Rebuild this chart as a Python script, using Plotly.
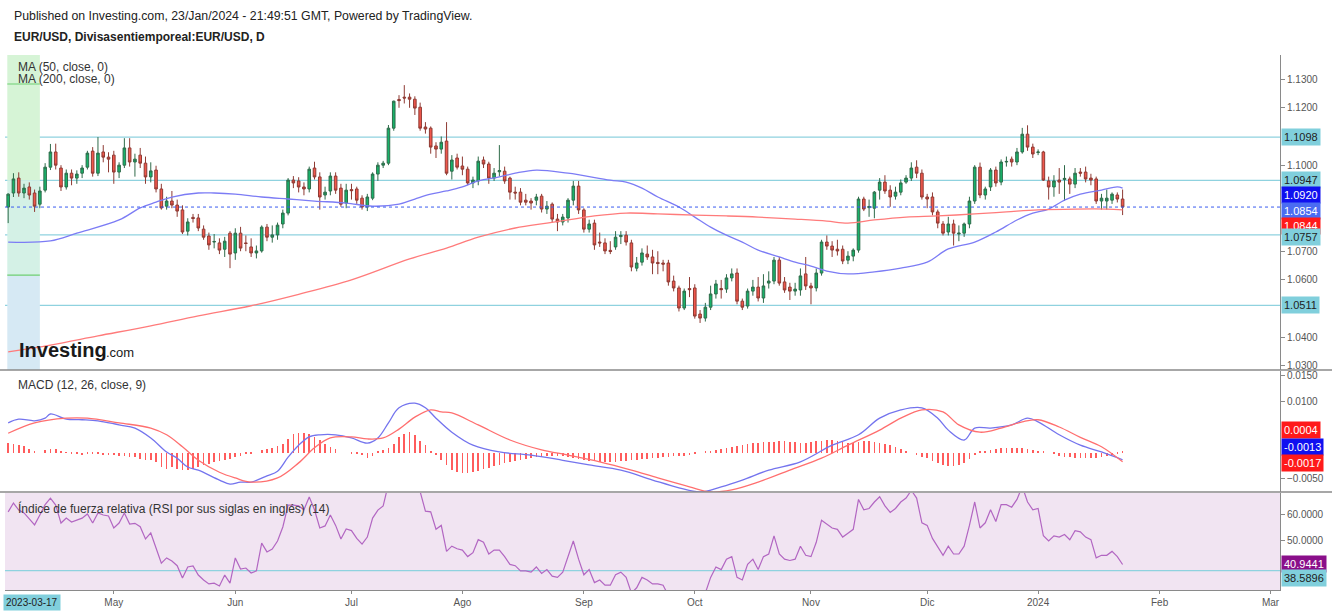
import pandas as pd
import plotly.graph_objects as go

# ------------------------------------------------------------------ data
START = "2023-04-03"   # first daily bar shown (bars are weekdays)

opens = [
    1.0854,1.0903,1.0955,1.0903,1.0924,1.0903,1.0864,1.0913,1.0993,1.1046,
    1.0990,1.0924,1.0972,1.0955,1.0972,1.0993,1.1049,1.0972,1.1046,1.1028,
    1.1035,1.0976,1.1000,1.1060,1.1011,1.1035,1.1007,1.0959,1.0983,1.0917,
    1.0857,1.0875,1.0861,1.0844,1.0770,1.0818,1.0816,1.0777,1.0753,1.0732,
    1.0729,1.0707,1.0763,1.0694,1.0763,1.0729,1.0715,1.0694,1.0701,1.0784,
    1.0749,1.0757,1.0795,1.0833,1.0948,1.0945,1.0924,1.0917,1.0990,1.0959,
    1.0896,1.0910,1.0962,1.0920,1.0868,1.0915,1.0917,1.0885,1.0854,1.0885,
    1.0969,1.1000,1.1007,1.1129,1.1229,1.1237,1.1237,1.1230,1.1202,1.1133,
    1.1129,1.1067,1.1056,1.1084,1.0979,1.1025,1.0997,1.0986,1.0938,1.0945,
    1.1018,1.1004,1.0955,1.0977,1.0979,1.0955,1.0906,1.0906,1.0878,1.0875,
    1.0878,1.0892,1.0847,1.0864,1.0812,1.0802,1.0816,1.0878,1.0927,1.0844,
    1.0777,1.0798,1.0732,1.0729,1.0703,1.0715,1.0751,1.0756,1.0729,1.0641,
    1.0662,1.0690,1.0680,1.0661,1.0659,1.0659,1.0596,1.0572,1.0502,1.0570,
    1.0572,1.0481,1.0467,1.0505,1.0551,1.0570,1.0568,1.0607,1.0624,1.0526,
    1.0509,1.0561,1.0575,1.0537,1.0589,1.0596,1.0669,1.0593,1.0575,1.0561,
    1.0565,1.0621,1.0579,1.0572,1.0624,1.0732,1.0718,1.0707,1.0707,1.0669,
    1.0683,1.0704,1.0882,1.0852,1.0850,1.0913,1.0941,1.0913,1.0892,1.0906,
    1.0941,1.0955,1.0993,1.0972,1.0889,1.0889,1.0837,1.0795,1.0767,1.0795,
    1.0760,1.0763,1.0795,1.0875,1.0993,1.0896,1.0924,1.0983,1.0941,1.1011,
    1.1021,1.1011,1.1046,1.1108,1.1063,1.1044,1.1046,1.0945,1.0924,1.0948,
    1.0950,1.0952,1.0934,1.0976,1.0976,1.0955,1.0952,1.0875,1.0875,1.0878,
    1.0896,1.0882,
]
highs = [
    1.0902,1.0972,1.0975,1.0935,1.0940,1.0915,1.0925,1.1007,1.1074,1.1075,
    1.1000,1.0985,1.0985,1.0982,1.1000,1.1050,1.1063,1.1098,1.1070,1.1045,
    1.1050,1.1010,1.1094,1.1094,1.1040,1.1060,1.1030,1.1010,1.0998,1.0935,
    1.0890,1.0910,1.0880,1.0860,1.0815,1.0830,1.0830,1.0790,1.0765,1.0760,
    1.0745,1.0750,1.0770,1.0780,1.0785,1.0755,1.0745,1.0720,1.0790,1.0795,
    1.0790,1.0800,1.0845,1.0955,1.0962,1.0958,1.0940,1.0995,1.1012,1.0975,
    1.0925,1.0975,1.0975,1.0935,1.0935,1.0935,1.0925,1.0895,1.0900,1.0975,
    1.1010,1.1015,1.1140,1.1225,1.1244,1.1279,1.1250,1.1240,1.1218,1.1150,
    1.1135,1.1080,1.1100,1.1150,1.1035,1.1040,1.1030,1.0995,1.0960,1.1030,
    1.1030,1.1012,1.0990,1.1070,1.0995,1.0960,1.0925,1.0920,1.0900,1.0885,
    1.0900,1.0900,1.0875,1.0870,1.0830,1.0830,1.0885,1.0945,1.0945,1.0850,
    1.0810,1.0810,1.0765,1.0745,1.0735,1.0770,1.0770,1.0770,1.0740,1.0680,
    1.0710,1.0720,1.0705,1.0700,1.0670,1.0670,1.0615,1.0580,1.0570,1.0610,
    1.0585,1.0495,1.0520,1.0580,1.0600,1.0600,1.0620,1.0640,1.0640,1.0535,
    1.0570,1.0600,1.0610,1.0620,1.0630,1.0680,1.0680,1.0610,1.0590,1.0590,
    1.0640,1.0680,1.0590,1.0640,1.0740,1.0755,1.0735,1.0740,1.0720,1.0700,
    1.0710,1.0890,1.0890,1.0880,1.0910,1.0955,1.0965,1.0930,1.0925,1.0950,
    1.0965,1.1010,1.1017,1.0985,1.0900,1.0905,1.0845,1.0805,1.0820,1.0810,
    1.0790,1.0800,1.0890,1.1000,1.1009,1.0925,1.0990,1.0995,1.1020,1.1030,
    1.1030,1.1060,1.1130,1.1139,1.1075,1.1055,1.1050,1.0960,1.0965,1.0990,
    1.1000,1.0960,1.0990,1.0990,1.0995,1.0970,1.0960,1.0900,1.0915,1.0905,
    1.0905,1.0915,
]
lows = [
    1.0798,1.0889,1.0890,1.0885,1.0880,1.0837,1.0850,1.0905,1.0983,1.0985,
    1.0910,1.0915,1.0930,1.0935,1.0955,1.0985,1.0960,1.0962,1.1010,1.0975,
    1.0935,1.0955,1.0990,1.0995,1.0960,1.0990,1.0935,1.0940,1.0905,1.0845,
    1.0845,1.0850,1.0820,1.0760,1.0755,1.0800,1.0770,1.0740,1.0705,1.0710,
    1.0690,1.0680,1.0641,1.0670,1.0700,1.0700,1.0680,1.0675,1.0695,1.0735,
    1.0730,1.0740,1.0780,1.0825,1.0920,1.0905,1.0895,1.0905,1.0950,1.0845,
    1.0880,1.0895,1.0900,1.0855,1.0850,1.0880,1.0865,1.0845,1.0840,1.0878,
    1.0945,1.0990,1.1000,1.1120,1.1200,1.1215,1.1200,1.1175,1.1120,1.1110,
    1.1040,1.1025,1.1040,1.0965,1.0950,1.0985,1.0965,1.0930,1.0920,1.0930,
    1.0990,1.0935,1.0945,1.0960,1.0935,1.0880,1.0880,1.0860,1.0860,1.0845,
    1.0860,1.0835,1.0830,1.0800,1.0770,1.0790,1.0800,1.0860,1.0830,1.0765,
    1.0765,1.0705,1.0715,1.0690,1.0690,1.0705,1.0725,1.0720,1.0630,1.0630,
    1.0650,1.0670,1.0620,1.0620,1.0630,1.0580,1.0560,1.0490,1.0495,1.0540,
    1.0465,1.0450,1.0455,1.0495,1.0535,1.0535,1.0555,1.0595,1.0515,1.0495,
    1.0500,1.0545,1.0525,1.0520,1.0570,1.0585,1.0580,1.0555,1.0530,1.0545,
    1.0545,1.0565,1.0515,1.0560,1.0615,1.0705,1.0680,1.0685,1.0655,1.0655,
    1.0665,1.0695,1.0840,1.0820,1.0815,1.0880,1.0900,1.0855,1.0880,1.0895,
    1.0935,1.0945,1.0955,1.0880,1.0850,1.0825,1.0780,1.0755,1.0755,1.0720,
    1.0735,1.0750,1.0780,1.0865,1.0885,1.0880,1.0910,1.0925,1.0930,1.0995,
    1.0995,1.1000,1.1040,1.1050,1.1025,1.1035,1.0945,1.0880,1.0890,1.0900,
    1.0875,1.0900,1.0920,1.0960,1.0940,1.0930,1.0865,1.0845,1.0845,1.0865,
    1.0870,1.0826,
]
closes = [
    1.0899,1.0952,1.0903,1.0920,1.0896,1.0857,1.0910,1.0993,1.1046,1.1000,
    1.0924,1.0972,1.0955,1.0969,1.0990,1.1042,1.0972,1.1042,1.1028,1.1021,
    1.0976,1.1000,1.1060,1.1011,1.1021,1.1007,1.0959,1.0980,1.0917,1.0851,
    1.0875,1.0861,1.0840,1.0767,1.0802,1.0814,1.0781,1.0749,1.0722,1.0734,
    1.0704,1.0735,1.0690,1.0763,1.0711,1.0727,1.0694,1.0701,1.0784,1.0749,
    1.0757,1.0791,1.0833,1.0948,1.0938,1.0924,1.0917,1.0986,1.0959,1.0889,
    1.0906,1.0962,1.0913,1.0864,1.0913,1.0911,1.0878,1.0854,1.0889,1.0969,
    1.1000,1.1007,1.1129,1.1223,1.1225,1.1234,1.1230,1.1199,1.1129,1.1126,
    1.1063,1.1056,1.1080,1.0972,1.1018,1.0993,1.0986,1.0938,1.0948,1.1014,
    1.1004,1.0955,1.0972,1.0981,1.0945,1.0906,1.0903,1.0871,1.0871,1.0868,
    1.0889,1.0847,1.0857,1.0812,1.0802,1.0819,1.0878,1.0927,1.0844,1.0777,
    1.0795,1.0722,1.0729,1.0701,1.0699,1.0749,1.0755,1.0732,1.0645,1.0659,
    1.0694,1.0680,1.0659,1.0657,1.0655,1.0593,1.0572,1.0502,1.0561,1.0566,
    1.0474,1.0467,1.0505,1.0551,1.0586,1.0566,1.0607,1.0621,1.0526,1.0505,
    1.0561,1.0575,1.0537,1.0579,1.0596,1.0669,1.0589,1.0565,1.0561,1.0568,
    1.0614,1.0579,1.0572,1.0624,1.0732,1.0718,1.0704,1.0701,1.0666,1.0683,
    1.0704,1.0882,1.0847,1.0856,1.0906,1.0941,1.0910,1.0889,1.0906,1.0938,
    1.0955,1.0990,1.0972,1.0889,1.0882,1.0837,1.0798,1.0763,1.0795,1.0763,
    1.0763,1.0795,1.0875,1.0993,1.0896,1.0917,1.0983,1.0938,1.1011,1.1013,
    1.1011,1.1046,1.1108,1.1063,1.1039,1.1046,1.0948,1.0924,1.0945,1.0941,
    1.0954,1.0934,1.0972,1.0972,1.0952,1.0948,1.0875,1.0885,1.0885,1.0899,
    1.0882,1.0854,
]

# moving averages (bar index, value)
ma50_bars = [0,8,13,21,25,28,31,36,39,43,48,53,58,64,69,74,77,80,83,86,89,93,96,100,106,
             114,117,120,123,127,130,133,136,139,142,146,149,152,155,159,164,169,174,178,
             183,187,191,194,197,200,203,207,210,211]
ma50_vals = [1.0732,1.0736,1.0763,1.0809,1.0851,1.0871,1.0889,1.0903,1.0903,1.0899,1.0889,
             1.0882,1.0875,1.0868,1.0857,1.0864,1.0882,1.0899,1.0910,1.0924,1.0945,1.0959,
             1.0972,1.0983,1.0972,1.0948,1.0941,1.0920,1.0889,1.0854,1.0819,1.0784,1.0756,
             1.0732,1.0704,1.0680,1.0662,1.0648,1.0631,1.0621,1.0628,1.0641,1.0662,1.0708,
             1.0732,1.0767,1.0809,1.0833,1.0847,1.0878,1.0899,1.0913,1.0924,1.0920]
ma200_bars = [0,8,17,27,36,46,55,65,76,83,89,96,102,106,111,117,123,130,136,142,149,155,
              159,164,170,176,183,189,195,202,208,211]
ma200_vals = [1.0349,1.0373,1.0405,1.0440,1.0475,1.0510,1.0550,1.0600,1.0673,1.0711,1.0749,
              1.0781,1.0798,1.0809,1.0823,1.0833,1.0830,1.0826,1.0823,1.0819,1.0812,1.0805,
              1.0798,1.0809,1.0819,1.0823,1.0830,1.0837,1.0844,1.0847,1.0847,1.0844]

# MACD (12, 26, close, 9)
macd_bars = [0,2,5,7,8,11,14,17,21,24,27,30,32,34,36,40,42,44,46,49,51,53,55,57,59,62,65,
             68,70,72,74,77,79,81,84,88,93,99,105,110,116,122,127,131,135,139,144,150,156,
             161,165,169,173,176,178,181,183,186,190,193,195,199,203,207,211]
macd_vals = [0.0058,0.0065,0.0062,0.0067,0.0075,0.0065,0.0064,0.0062,0.0054,0.0048,0.0029,
             0.0002,-0.0010,-0.0027,-0.0033,-0.0052,-0.0060,-0.0056,-0.0056,-0.0044,-0.0035,
             -0.0008,0.0015,0.0031,0.0035,0.0035,0.0029,0.0019,0.0029,0.0058,0.0087,0.0096,
             0.0087,0.0067,0.0040,0.0015,0.0002,-0.0004,-0.0014,-0.0023,-0.0033,-0.0052,
             -0.0067,-0.0075,-0.0065,-0.0052,-0.0033,-0.0017,0.0015,0.0035,0.0067,0.0083,
             0.0087,0.0067,0.0044,0.0025,0.0048,0.0048,0.0054,0.0067,0.0060,0.0035,0.0015,
             0.0002,-0.0013]
signal_bars = [0,5,11,15,21,27,30,33,36,40,43,46,51,55,58,61,65,68,71,74,77,80,82,84,89,95,
               101,106,112,118,123,129,133,137,142,148,154,159,165,169,173,177,180,184,188,
               192,195,199,203,207,211]
signal_vals = [0.0038,0.0058,0.0067,0.0067,0.0058,0.0048,0.0035,0.0012,-0.0014,-0.0037,
               -0.0048,-0.0056,-0.0048,-0.0019,0.0010,0.0029,0.0031,0.0027,0.0029,0.0046,
               0.0069,0.0083,0.0079,0.0077,0.0054,0.0025,0.0006,-0.0004,-0.0017,-0.0033,
               -0.0048,-0.0065,-0.0075,-0.0071,-0.0056,-0.0033,-0.0010,0.0015,0.0044,0.0067,
               0.0083,0.0079,0.0054,0.0040,0.0048,0.0060,0.0064,0.0050,0.0030,0.0012,-0.0017]
hist_vals = [
    0.0019,0.0017,0.0015,0.0013,0.0008,0.0002,0.0000,0.0006,0.0008,0.0008,
    0.0002,0.0001,-0.0001,-0.0002,-0.0004,-0.0002,-0.0002,-0.0002,-0.0004,-0.0004,
    -0.0004,-0.0006,-0.0006,-0.0008,-0.0008,-0.0012,-0.0013,-0.0013,-0.0017,-0.0027,
    -0.0031,-0.0027,-0.0031,-0.0033,-0.0033,-0.0031,-0.0027,-0.0023,-0.0021,-0.0017,
    -0.0015,-0.0013,-0.0012,-0.0008,-0.0006,-0.0002,-0.0002,0.0000,0.0006,0.0008,
    0.0010,0.0013,0.0017,0.0027,0.0037,0.0038,0.0038,0.0037,0.0031,0.0025,
    0.0017,0.0012,0.0008,0.0000,0.0000,-0.0002,-0.0002,-0.0004,-0.0010,-0.0006,
    0.0002,0.0006,0.0010,0.0017,0.0031,0.0037,0.0040,0.0035,0.0023,0.0015,
    0.0002,-0.0004,-0.0013,-0.0023,-0.0033,-0.0037,-0.0038,-0.0038,-0.0037,-0.0035,
    -0.0031,-0.0029,-0.0025,-0.0023,-0.0019,-0.0017,-0.0015,-0.0013,-0.0012,-0.0010,
    -0.0008,-0.0008,-0.0006,-0.0006,-0.0006,-0.0006,-0.0008,-0.0010,-0.0012,-0.0013,
    -0.0015,-0.0015,-0.0017,-0.0017,-0.0017,-0.0017,-0.0015,-0.0015,-0.0013,-0.0013,
    -0.0012,-0.0012,-0.0010,-0.0010,-0.0008,-0.0008,-0.0006,-0.0006,-0.0006,-0.0004,
    -0.0002,0.0000,0.0002,0.0004,0.0006,0.0008,0.0010,0.0012,0.0013,0.0015,
    0.0017,0.0019,0.0019,0.0021,0.0021,0.0021,0.0023,0.0023,0.0021,0.0021,
    0.0019,0.0019,0.0021,0.0023,0.0023,0.0025,0.0025,0.0023,0.0021,0.0019,
    0.0019,0.0021,0.0023,0.0023,0.0021,0.0019,0.0017,0.0015,0.0012,0.0008,
    0.0004,0.0000,-0.0004,-0.0008,-0.0010,-0.0015,-0.0020,-0.0024,-0.0026,-0.0026,
    -0.0024,-0.0020,-0.0012,-0.0004,0.0002,0.0004,0.0006,0.0008,0.0010,0.0010,
    0.0010,0.0010,0.0010,0.0008,0.0006,0.0004,0.0002,0.0000,-0.0002,-0.0005,
    -0.0007,-0.0008,-0.0009,-0.0010,-0.0010,-0.0010,-0.0009,-0.0008,-0.0006,-0.0004,
    -0.0002,0.0004,
]

# RSI (14), one value per bar
rsi_vals = [
    61.2,64.6,61.9,60.8,58.5,56.2,60.0,64.0,66.5,63.8,
    56.9,58.8,57.3,58.0,58.8,60.4,56.9,60.8,60.0,59.6,
    55.0,56.9,60.8,56.5,56.8,55.5,50.8,53.1,47.0,41.5,
    43.5,42.3,40.5,35.8,40.0,40.4,36.9,35.0,33.5,33.8,
    32.7,36.9,33.8,43.5,39.2,39.6,37.7,38.5,49.2,45.8,
    46.9,50.0,55.4,63.8,63.8,63.5,62.0,66.9,62.0,55.0,
    55.8,60.0,56.0,50.8,54.6,54.0,51.0,48.8,51.5,58.8,
    61.9,63.5,72.0,77.0,80.0,80.0,79.0,74.0,69.0,61.5,
    61.2,54.5,56.0,46.0,48.0,47.0,46.5,44.0,45.5,50.5,
    49.5,45.0,46.5,46.5,44.0,41.0,40.5,38.5,38.5,38.0,
    40.0,37.5,39.0,36.5,36.0,38.0,44.0,50.0,43.0,37.0,
    39.0,34.0,35.0,33.0,33.0,37.0,38.0,36.0,30.0,32.0,
    36.0,35.0,33.5,33.5,33.0,29.0,27.0,23.0,30.0,30.0,
    25.0,24.0,30.0,36.0,40.0,39.0,43.0,44.0,36.0,35.0,
    41.0,43.0,39.0,44.0,45.0,52.0,45.0,43.0,42.5,43.0,
    48.0,44.5,44.0,49.5,58.0,56.5,55.0,54.5,51.5,53.0,
    54.5,66.0,62.0,62.5,65.0,67.0,63.5,61.0,62.5,65.0,
    66.5,69.5,66.5,57.0,56.0,51.0,47.5,44.5,48.0,45.0,
    45.0,48.0,56.0,65.0,55.0,57.0,62.0,57.5,64.0,64.0,
    63.0,66.0,71.0,65.0,62.0,62.5,52.0,50.0,52.0,51.5,
    52.5,50.5,54.0,53.5,51.5,50.5,43.5,44.5,44.5,46.0,
    44.0,40.9441,
]

level_lines = [1.1098, 1.0947, 1.0757, 1.0511]
last_price = 1.0854
ma50_last = 1.0920
ma200_last = 1.0844
macd_hist_last, macd_last, signal_last = 0.0004, -0.0013, -0.0017
rsi_last = 40.9441
rsi_level = 38.5896

price_ticks = [1.03, 1.04, 1.06, 1.07, 1.10, 1.12, 1.13]
macd_ticks = [0.015, 0.010, -0.005]
rsi_ticks = [60, 50]
month_ticks = ["2023-05-01", "2023-06-01", "2023-07-03", "2023-08-01", "2023-09-01",
               "2023-10-02", "2023-11-01", "2023-12-01", "2024-01-01", "2024-02-01",
               "2024-03-01"]
month_labels = ["May", "Jun", "Jul", "Ago", "Sep", "Oct", "Nov", "Dic", "2024", "Feb", "Mar"]

# ------------------------------------------------------------------ figure
dates = pd.bdate_range(START, periods=len(closes))
FONT = "Liberation Sans, Arial, sans-serif"

fig = go.Figure()

fig.add_trace(go.Candlestick(
    x=dates, open=opens, high=highs, low=lows, close=closes,
    increasing=dict(fillcolor="#17b26a", line=dict(color="#2f6b4a", width=1)),
    decreasing=dict(fillcolor="#f0574c", line=dict(color="#8e3a33", width=1)),
    whiskerwidth=0, yaxis="y", showlegend=False, hoverinfo="skip"))

fig.add_trace(go.Scatter(x=[dates[i] for i in ma50_bars], y=ma50_vals, mode="lines",
                         line=dict(color="#7c7cf5", width=1.3, shape="spline"),
                         yaxis="y", showlegend=False, hoverinfo="skip"))
fig.add_trace(go.Scatter(x=[dates[i] for i in ma200_bars], y=ma200_vals, mode="lines",
                         line=dict(color="#ff7b7b", width=1.3, shape="spline"),
                         yaxis="y", showlegend=False, hoverinfo="skip"))

fig.add_trace(go.Bar(x=dates, y=hist_vals, marker=dict(color="#ff5c5c", line=dict(width=0)),
                     width=0.12 * 86400000, yaxis="y2", showlegend=False, hoverinfo="skip"))
fig.add_trace(go.Scatter(x=[dates[i] for i in macd_bars], y=macd_vals, mode="lines",
                         line=dict(color="#7474ee", width=1.3, shape="spline"),
                         yaxis="y2", showlegend=False, hoverinfo="skip"))
fig.add_trace(go.Scatter(x=[dates[i] for i in signal_bars], y=signal_vals, mode="lines",
                         line=dict(color="#ff6f6f", width=1.3, shape="spline"),
                         yaxis="y2", showlegend=False, hoverinfo="skip"))

fig.add_trace(go.Scatter(x=dates, y=rsi_vals, mode="lines",
                         line=dict(color="#b266c2", width=1.2),
                         yaxis="y3", showlegend=False, hoverinfo="skip"))

axis_common = dict(side="right", showgrid=False, zeroline=False, showline=True,
                   linecolor="#8a8a8a", linewidth=1, ticks="outside", ticklen=4,
                   tickcolor="#8a8a8a", tickfont=dict(family=FONT, size=10, color="#555"),
                   anchor="x", fixedrange=True)

fig.update_layout(
    width=1332, height=614,
    margin=dict(l=5, r=52, t=55, b=24),
    paper_bgcolor="white", plot_bgcolor="white",
    font=dict(family=FONT),
    bargap=0,
    xaxis=dict(type="date", rangebreaks=[dict(bounds=["sat", "mon"])],
               range=["2023-03-31 09:36", "2024-03-04 19:12"],
               tickvals=month_ticks, ticktext=month_labels,
               showgrid=False, zeroline=False, showline=True, linecolor="#8a8a8a",
               ticks="outside", ticklen=3, tickcolor="#8a8a8a",
               tickfont=dict(family=FONT, size=10, color="#555"),
               anchor="y3", rangeslider=dict(visible=False), fixedrange=True),
    yaxis=dict(domain=[0.4112, 1.0], range=[1.0286, 1.1384], tickvals=price_ticks,
               tickformat=".4f", **axis_common),
    yaxis2=dict(domain=[0.1832, 0.4093], range=[-0.0075, 0.01577], tickvals=macd_ticks,
                tickformat=".4f", **axis_common),
    yaxis3=dict(domain=[0.0, 0.1813], range=[31.15, 68.46], tickvals=rsi_ticks,
                tickformat=".4f", **axis_common),
)

shapes = []
# RSI panel background
shapes.append(dict(type="rect", xref="paper", yref="y3 domain", x0=0, x1=1, y0=0, y1=1,
                   fillcolor="#f1e4f2", line=dict(width=0), layer="below"))
# shaded drawing at the left of the price panel
shapes.append(dict(type="rect", xref="x", yref="y", x0="2023-03-31 20:00", x1="2023-04-11",
                   y0=1.0947, y1=1.1384, fillcolor="#d6f4d6", line=dict(width=0), layer="below"))
shapes.append(dict(type="rect", xref="x", yref="y", x0="2023-03-31 20:00", x1="2023-04-11",
                   y0=1.0617, y1=1.0947, fillcolor="#d4f1e6", line=dict(width=0), layer="below"))
shapes.append(dict(type="rect", xref="x", yref="y", x0="2023-03-31 20:00", x1="2023-04-11",
                   y0=1.0286, y1=1.0617, fillcolor="#d6e9f4", line=dict(width=0), layer="below"))
for lv in (1.1283, 1.0617):
    shapes.append(dict(type="line", xref="x", yref="y", x0="2023-03-31 20:00", x1="2023-04-11",
                       y0=lv, y1=lv, line=dict(color="#6fcf72", width=1.2), layer="below"))
# horizontal levels
for lv in level_lines:
    shapes.append(dict(type="line", xref="paper", yref="y", x0=0, x1=1, y0=lv, y1=lv,
                       line=dict(color="#8fd2df", width=1.3), layer="below"))
shapes.append(dict(type="line", xref="paper", yref="y3", x0=0, x1=1, y0=rsi_level, y1=rsi_level,
                   line=dict(color="#8fd2df", width=1.3), layer="below"))
# last price dotted line
shapes.append(dict(type="line", xref="paper", yref="y", x0=0, x1=1, y0=last_price, y1=last_price,
                   line=dict(color="#3a5cf0", width=1, dash="dot")))
# panel separators
for yd in ("y domain", "y2 domain"):
    shapes.append(dict(type="line", xref="paper", yref=yd, x0=-0.004, x1=1.041, y0=0, y1=0,
                       line=dict(color="#8a8a8a", width=1.5)))
fig.update_layout(shapes=shapes)

ann = []
def label(text, x, y, xref="paper", yref="paper", size=12, color="#333", bold=False,
          xanchor="left", yanchor="middle", xshift=0, yshift=0, bg=None):
    t = "<b>%s</b>" % text if bold else text
    d = dict(text=t, x=x, y=y, xref=xref, yref=yref, showarrow=False, xanchor=xanchor,
             yanchor=yanchor, xshift=xshift, yshift=yshift,
             font=dict(family=FONT, size=size, color=color))
    if bg:
        d.update(bgcolor=bg, borderpad=2)
    ann.append(d)

label("Published on Investing.com, 23/Jan/2024 - 21:49:51 GMT, Powered by TradingView.",
      0, 1, xshift=7, yshift=39, size=12.3, color="#222")
label("EUR/USD, Divisasentiemporeal:EUR/USD, D", 0, 1, xshift=7, yshift=18, size=12,
      color="#222", bold=True)
label("MA (50, close, 0)", 0, 1, yref="y domain", xshift=11, yshift=-12, size=12)
label("MA (200, close, 0)", 0, 1, yref="y domain", xshift=11, yshift=-24, size=12)
label("MACD (12, 26, close, 9)", 0, 1, yref="y2 domain", xshift=11, yshift=-14, size=12)
label("Índice de fuerza relativa (RSI por sus siglas en inglés) (14)", 0, 1,
      yref="y3 domain", xshift=11, yshift=-15, size=12)
label("Investing", 0, 0, yref="y domain", xshift=12, yshift=20, size=20, color="#1a1a1a",
      bold=True)
label(".com", 0, 0, yref="y domain", xshift=99, yshift=18, size=13, color="#1a1a1a")
label("2023-03-17", 0, 0, yref="paper", yanchor="top", xshift=-2, yshift=-4, size=10,
      color="#222", bg="#80cfdc")

TEAL, BLUE, LBLUE, RED, PURPLE = "#80cfdc", "#1010f0", "#4a6cf2", "#ff1a1a", "#8a0f8a"
right_labels = [
    (level_lines[0], "y", TEAL, "#222", 0),
    (level_lines[1], "y", TEAL, "#222", 0),
    (ma50_last, "y", BLUE, "white", -7),
    (last_price, "y", LBLUE, "white", -4),
    (ma200_last, "y", RED, "white", -16),
    (level_lines[2], "y", TEAL, "#222", -2),
    (level_lines[3], "y", TEAL, "#222", 0),
    (macd_hist_last, "y2", RED, "white", 21),
    (macd_last, "y2", BLUE, "white", 13),
    (signal_last, "y2", RED, "white", -1),
    (rsi_last, "y3", PURPLE, "white", 1),
    (rsi_level, "y3", TEAL, "#222", -7),
]
for val, yref, bg, fg, ys in right_labels:
    ann.append(dict(text="%.4f" % val, x=1, y=val, xref="paper", yref=yref, showarrow=False,
                    xanchor="left", yanchor="middle", xshift=1, yshift=ys, bgcolor=bg,
                    borderpad=2, font=dict(family=FONT, size=11, color=fg)))
fig.update_layout(annotations=ann)

fig.write_html("out.html", config={"displayModeBar": False},
               post_script="document.body.style.margin='0px';document.body.style.padding='0px';")
